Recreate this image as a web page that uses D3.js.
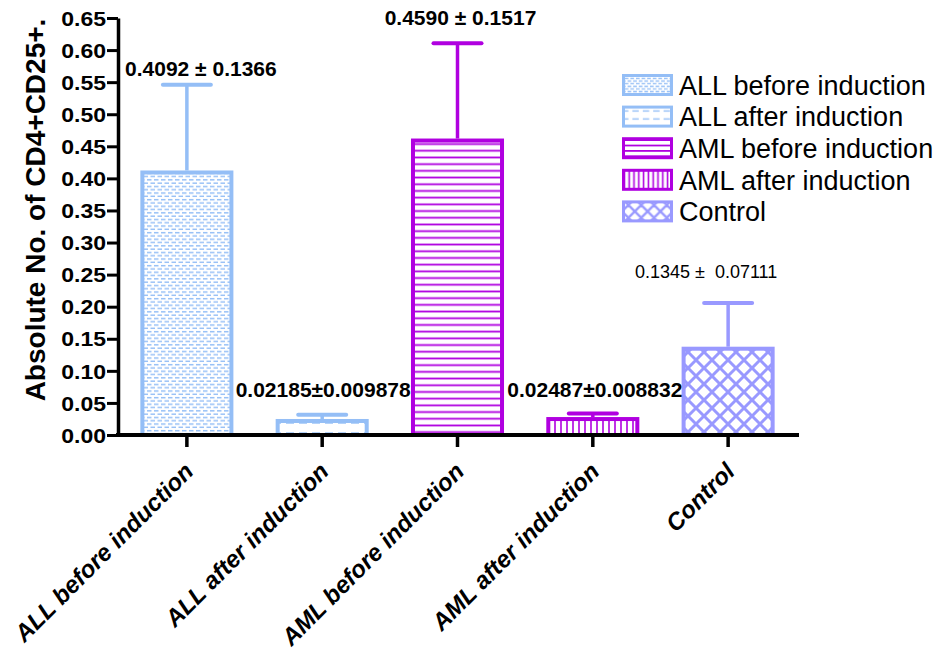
<!DOCTYPE html>
<html>
<head>
<meta charset="utf-8">
<script src="https://cdn.jsdelivr.net/npm/d3@7"></script>
<style>
  body { margin: 0; background: #fff; }
  svg { display: block; font-family: "Liberation Sans", Arial, sans-serif; }
</style>
</head>
<body>
<div id="chart"></div>
<script>
/** Chart data **/
const categories = [
  'ALL before induction',
  'ALL after induction',
  'AML before induction',
  'AML after induction',
  'Control',
];
const means = [0.4092, 0.02185, 0.459, 0.02487, 0.1345];
const sds = [0.1366, 0.009878, 0.1517, 0.008832, 0.07111];
const valueLabels = [
  '0.4092 ± 0.1366',
  '0.02185±0.009878',
  '0.4590 ± 0.1517',
  '0.02487±0.008832',
  '0.1345 ±  0.07111',
];
const yTicks = [0, 0.05, 0.1, 0.15, 0.2, 0.25, 0.3, 0.35, 0.4, 0.45, 0.5, 0.55, 0.6, 0.65];
const yTitle = 'Absolute No. of CD4+CD25+.';

/** Styles per group **/
const colors = ['#94bef6', '#94bef6', '#b000e0', '#b000e0', '#9999ff'];
// annotation nudges (label placement above the error bar), and which are bold
const labelNudge = [
  { dx: 14, dy: -9 },
  { dx: 1, dy: -18 },
  { dx: 3, dy: -18 },
  { dx: 2, dy: -16 },
  { dx: -22, dy: -25 },
];
const labelBold = [true, true, true, true, false];

const width = 940;
const height = 666;

const svg = d3
  .select('#chart')
  .append('svg')
  .attr('width', width)
  .attr('height', height);

/** Fill patterns **/
const defs = svg.append('defs');

function makePatterns(prefix, s) {
  // ALL before: dense staggered dashes
  let p = defs.append('pattern').attr('id', `${prefix}0`)
    .attr('patternUnits', 'userSpaceOnUse')
    .attr('width', 7 * s).attr('height', 6.6 * s);
  p.append('line').attr('x1', 0).attr('x2', 7 * s).attr('y1', 1.65 * s).attr('y2', 1.65 * s)
    .attr('stroke', colors[0]).attr('stroke-width', 1.5)
    .attr('stroke-dasharray', `${4.5 * s} ${2.5 * s}`);
  p.append('line').attr('x1', 0).attr('x2', 7 * s).attr('y1', 4.95 * s).attr('y2', 4.95 * s)
    .attr('stroke', colors[0]).attr('stroke-width', 1.5)
    .attr('stroke-dasharray', `${4.5 * s} ${2.5 * s}`)
    .attr('stroke-dashoffset', 3.5 * s);

  // ALL after: sparse dashes
  p = defs.append('pattern').attr('id', `${prefix}1`)
    .attr('patternUnits', 'userSpaceOnUse')
    .attr('width', 13 * s).attr('height', 10 * s);
  p.append('line').attr('x1', 0).attr('x2', 13 * s).attr('y1', 3 * s).attr('y2', 3 * s)
    .attr('stroke', colors[1]).attr('stroke-width', 1.4)
    .attr('stroke-dasharray', `${8 * s} ${5 * s}`);

  // AML before: horizontal lines
  p = defs.append('pattern').attr('id', `${prefix}2`)
    .attr('patternUnits', 'userSpaceOnUse')
    .attr('width', 10).attr('height', 6.7 * s);
  p.append('line').attr('x1', 0).attr('x2', 10).attr('y1', 3.35 * s).attr('y2', 3.35 * s)
    .attr('stroke', colors[2]).attr('stroke-width', 1.8);

  // AML after: vertical lines
  p = defs.append('pattern').attr('id', `${prefix}3`)
    .attr('patternUnits', 'userSpaceOnUse')
    .attr('width', 6 * s).attr('height', 10);
  p.append('line').attr('x1', 3 * s).attr('x2', 3 * s).attr('y1', 0).attr('y2', 10)
    .attr('stroke', colors[3]).attr('stroke-width', 1.6);

  // Control: cross hatch
  const c = 16 * s;
  p = defs.append('pattern').attr('id', `${prefix}4`)
    .attr('patternUnits', 'userSpaceOnUse')
    .attr('width', c).attr('height', c);
  p.append('path')
    .attr('d', `M0,0L${c},${c}M${c},0L0,${c}M${-c / 2},${c / 2}L${c / 2},${c * 1.5}M${c / 2},${-c / 2}L${c * 1.5},${c / 2}M${c / 2},${-c / 2}L${-c / 2},${c / 2}M${c * 1.5},${c / 2}L${c / 2},${c * 1.5}`)
    .attr('stroke', colors[4]).attr('stroke-width', 3 * s);
}
makePatterns('pat', 1);
makePatterns('leg', 0.8);

/** Scales **/
const x = d3
  .scaleBand()
  .domain(categories)
  .range([118, 797])
  .paddingInner(0.342)
  .paddingOuter(0.18);

const y = d3.scaleLinear().domain([0, 0.65]).range([435, 18]);

const data = categories.map((c, i) => ({
  cat: c,
  mean: means[i],
  sd: sds[i],
  label: valueLabels[i],
  i,
}));

/** Bars **/
svg
  .append('g')
  .selectAll('rect')
  .data(data)
  .join('rect')
  .attr('x', (d) => x(d.cat))
  .attr('y', (d) => y(d.mean))
  .attr('width', x.bandwidth())
  .attr('height', (d) => y(0) - y(d.mean))
  .attr('fill', (d) => `url(#pat${d.i})`)
  .attr('stroke', (d) => colors[d.i])
  .attr('stroke-width', 4);

/** Error bars (upper only) **/
const err = svg.append('g').selectAll('g').data(data).join('g');
err
  .append('line')
  .attr('x1', (d) => x(d.cat) + x.bandwidth() / 2)
  .attr('x2', (d) => x(d.cat) + x.bandwidth() / 2)
  .attr('y1', (d) => y(d.mean) - 2)
  .attr('y2', (d) => y(d.mean + d.sd))
  .attr('stroke', (d) => colors[d.i])
  .attr('stroke-width', 3.5);
err
  .append('line')
  .attr('x1', (d) => x(d.cat) + x.bandwidth() / 2 - 24)
  .attr('x2', (d) => x(d.cat) + x.bandwidth() / 2 + 24)
  .attr('y1', (d) => y(d.mean + d.sd))
  .attr('y2', (d) => y(d.mean + d.sd))
  .attr('stroke', (d) => colors[d.i])
  .attr('stroke-width', 4)
  .attr('stroke-linecap', 'round');

/** Mean ± SD annotations **/
svg
  .append('g')
  .selectAll('text')
  .data(data)
  .join('text')
  .attr('x', (d) => x(d.cat) + x.bandwidth() / 2 + labelNudge[d.i].dx)
  .attr('y', (d) => y(d.mean + d.sd) + labelNudge[d.i].dy)
  .attr('text-anchor', 'middle')
  .attr('font-size', (d) => (labelBold[d.i] ? 21 : 18))
  .attr('font-weight', (d) => (labelBold[d.i] ? 'bold' : 'normal'))
  .style('white-space', 'pre')
  .attr('fill', '#000')
  .text((d) => d.label);

/** Y axis **/
const stretch = 1.15;
const yAxis = svg
  .append('g')
  .attr('transform', 'translate(118, 0)')
  .call(
    d3.axisLeft(y).tickValues(yTicks).tickFormat(d3.format('.2f')).tickSize(11).tickSizeOuter(0)
  );
yAxis.select('.domain').attr('stroke-width', 3.5);
yAxis.selectAll('.tick line').attr('stroke-width', 3);
yAxis
  .selectAll('.tick text')
  .attr('x', -12 / stretch)
  .attr('dy', '0.36em')
  .attr('transform', `scale(${stretch},1)`)
  .attr('font-size', 20)
  .attr('font-weight', 'bold')
  .attr('font-family', '"Liberation Sans", Arial, sans-serif')
  .attr('fill', '#000');

svg
  .append('text')
  .attr('transform', 'translate(45, 210) rotate(-90)')
  .attr('text-anchor', 'middle')
  .attr('font-size', 28)
  .attr('font-weight', 'bold')
  .text(yTitle);

/** X axis **/
const xAxis = svg
  .append('g')
  .attr('transform', `translate(0, ${y(0)})`)
  .call(d3.axisBottom(x).tickSize(12).tickSizeOuter(0));
xAxis.select('.domain').attr('stroke-width', 4).attr('d', 'M116,0H799');
xAxis.selectAll('.tick line').attr('stroke-width', 3.5);
xAxis
  .selectAll('.tick text')
  .attr('x', 0)
  .attr('y', 0)
  .attr('dy', 0)
  .attr('transform', 'translate(8, 38) rotate(-45)')
  .attr('text-anchor', 'end')
  .attr('font-size', 24)
  .attr('font-weight', 'bold')
  .attr('font-style', 'italic')
  .attr('font-family', '"Liberation Sans", Arial, sans-serif')
  .attr('fill', '#000');

/** Legend **/
const legend = svg
  .append('g')
  .selectAll('g')
  .data(data)
  .join('g')
  .attr('transform', (d) => `translate(622, ${85 + d.i * 31.6})`);
legend
  .append('rect')
  .attr('x', 1.5)
  .attr('y', -9.5)
  .attr('width', 48)
  .attr('height', 19)
  .attr('fill', (d) => `url(#leg${d.i})`)
  .attr('stroke', (d) => colors[d.i])
  .attr('stroke-width', 3);
legend
  .append('text')
  .attr('x', 57)
  .attr('y', 0)
  .attr('dy', '0.36em')
  .attr('font-size', 27)
  .attr('fill', '#000')
  .text((d) => d.cat);
</script>
</body>
</html>
